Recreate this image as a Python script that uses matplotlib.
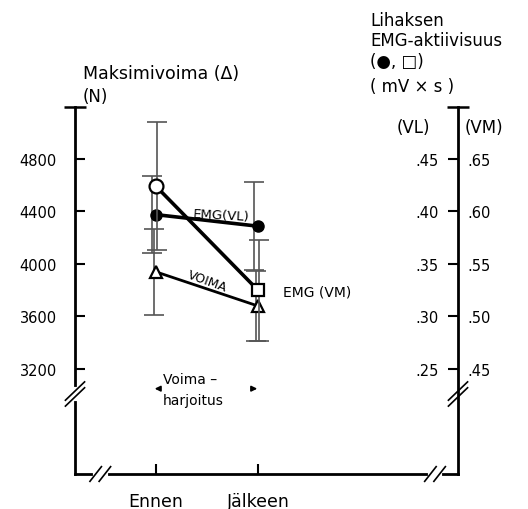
import numpy as np
import matplotlib.pyplot as plt

# mittausajankohdat
times = ["Ennen", "Jälkeen"]

# maksimivoima (N), keskiarvo ja keskihajonta
force_mean = [3940, 3680]
force_sd = [325, 265]

# EMG-aktiivisuus (mV x s)
emg_vl_mean = [0.397, 0.386]
emg_vl_sd = [0.037, 0.042]
emg_vm_mean = [0.624, 0.525]
emg_vm_sd = [0.061, 0.048]

force_ticks = [3200, 3600, 4000, 4400, 4800]
vl_ticks = [0.25, 0.30, 0.35, 0.40, 0.45]
vm_ticks = [0.45, 0.50, 0.55, 0.60, 0.65]

W, H = 528, 510
fig = plt.figure(figsize=(W / 100, H / 100), dpi=100)
plt.rcParams['font.family'] = ['DejaVu Sans']


def fx(px):
    return px / W


def fy(py):
    return 1 - py / H


ax = fig.add_axes([fx(75), fy(475), (458 - 75) / W, (475 - 108) / H])
x = np.arange(len(times))
ax.set_xlim(-0.794, 2.961)
ax.set_ylim(2400, 5196)

ax_vl = ax.twinx()
ax_vl.set_ylim(0.15, 0.4995)
ax_vm = ax.twinx()
ax_vm.set_ylim(0.35, 0.6995)

for a in (ax, ax_vl, ax_vm):
    a.spines['top'].set_visible(False)
    a.patch.set_visible(False)
for a in (ax_vl, ax_vm):
    a.spines['left'].set_visible(False)
    a.spines['bottom'].set_visible(False)
ax.spines['right'].set_visible(False)
ax_vl.spines['right'].set_visible(False)
for s in ('left', 'bottom'):
    ax.spines[s].set_linewidth(2)
ax_vm.spines['right'].set_linewidth(2)

# vasen akseli: voima
ax.set_yticks(force_ticks)
ax.set_yticklabels([str(t) for t in force_ticks])
ax.tick_params(axis='y', direction='in', length=7, width=1.5, pad=13, labelsize=10.5)
ax.set_xticks(x)
ax.set_xticklabels(times)
ax.tick_params(axis='x', direction='in', length=7, width=1.5, pad=13, labelsize=12.5)

# oikea akseli: EMG (VL vasemmalle, VM oikealle)
ax_vl.set_yticks(vl_ticks)
ax_vl.set_yticklabels(["." + f"{t:.2f}"[2:] for t in vl_ticks])
ax_vl.tick_params(axis='y', direction='in', length=7, width=1.5, pad=-14, labelsize=10.5)
for lbl in ax_vl.get_yticklabels():
    lbl.set_horizontalalignment('right')
ax_vm.set_yticks(vm_ticks)
ax_vm.set_yticklabels(["." + f"{t:.2f}"[2:] for t in vm_ticks])
ax_vm.tick_params(axis='y', direction='in', length=0, pad=7, labelsize=10.5)

# virhepalkit
eb = dict(fmt='none', ecolor='#555555', elinewidth=1.2, capsize=7, capthick=1.2, zorder=2)
ax_vm.errorbar(x + 0.01, emg_vm_mean, yerr=emg_vm_sd, **eb)
ax_vl.errorbar(x - 0.04, emg_vl_mean, yerr=emg_vl_sd, **eb)
ax.errorbar(x - 0.02, force_mean, yerr=force_sd, **eb)

# viivat ja merkit
ax_vl.plot(x, emg_vl_mean, color='black', lw=2.6, zorder=3)
ax_vl.plot(x, emg_vl_mean, 'o', color='black', ms=8, zorder=4)
ax_vm.plot(x, emg_vm_mean, color='black', lw=2.6, zorder=3)
ax_vm.plot(x[:1], emg_vm_mean[:1], 'o', mfc='white', mec='black', mew=1.6, ms=10, zorder=4)
ax_vm.plot(x[1:], emg_vm_mean[1:], 's', mfc='white', mec='black', mew=1.6, ms=9, zorder=4)
ax.plot(x, force_mean, color='black', lw=2, zorder=3)
ax.plot(x, force_mean, '^', mfc='white', mec='black', mew=1.6, ms=9, zorder=4)

# sarjojen nimet
ax.text(0.64, 4370, "EMG(VL)", fontsize=9.5, rotation=-3, ha='center', va='center')
ax.text(0.50, 3870, "VOIMA", fontsize=9, rotation=-20, ha='center', va='center')
ax.text(1.25, 3790, "EMG (VM)", fontsize=10, ha='left', va='center')

# voimaharjoittelujakso
ax.annotate("", xy=(-0.04, 3050), xytext=(0.06, 3050),
            arrowprops=dict(arrowstyle='-|>', color='black', lw=1.2, mutation_scale=8))
ax.annotate("", xy=(1.02, 3050), xytext=(0.92, 3050),
            arrowprops=dict(arrowstyle='-|>', color='black', lw=1.2, mutation_scale=8))
ax.text(0.07, 3120, "Voima –", fontsize=10, ha='left', va='center')
ax.text(0.07, 2960, "harjoitus", fontsize=10, ha='left', va='center')

# akselien katkokset ja yläpäät
brk = dict(color='black', lw=1.2, clip_on=False, transform=ax.transAxes, zorder=6)
gap = dict(color='white', lw=3, clip_on=False, transform=ax.transAxes, zorder=5)
yb = 0.218
for xb in (0.0, 1.0):
    ax.plot([xb, xb], [yb - 0.014, yb + 0.014], **gap)
    for d in (-0.008, 0.008):
        ax.plot([xb - 0.025, xb + 0.025], [yb + d - 0.025, yb + d + 0.025], **brk)
for xb in (0.066, 0.94):
    ax.plot([xb - 0.014, xb + 0.014], [0, 0], **gap)
    for d in (-0.012, 0.012):
        ax.plot([xb + d - 0.015, xb + d + 0.015], [-0.02, 0.02], **brk)
ax.plot([0, 1], [1, 1], ls='none', marker='_', ms=16, mew=1.8, color='black',
        clip_on=False, transform=ax.transAxes)

# akselien otsikot
fig.text(fx(83), fy(74), "Maksimivoima (Δ)", fontsize=12.5, va='center', ha='left')
fig.text(fx(83), fy(97), "(N)", fontsize=12, va='center', ha='left')
fig.text(fx(370), fy(21), "Lihaksen", fontsize=12, va='center', ha='left')
fig.text(fx(370), fy(41), "EMG-aktiivisuus", fontsize=12, va='center', ha='left')
fig.text(fx(370), fy(62), "(●, □)", fontsize=12, va='center', ha='left')
fig.text(fx(370), fy(87), "( mV × s )", fontsize=12, va='center', ha='left')
fig.text(fx(430), fy(128), "(VL)", fontsize=12, va='center', ha='right')
fig.text(fx(465), fy(128), "(VM)", fontsize=12, va='center', ha='left')

fig.savefig("out.png", dpi=100)
